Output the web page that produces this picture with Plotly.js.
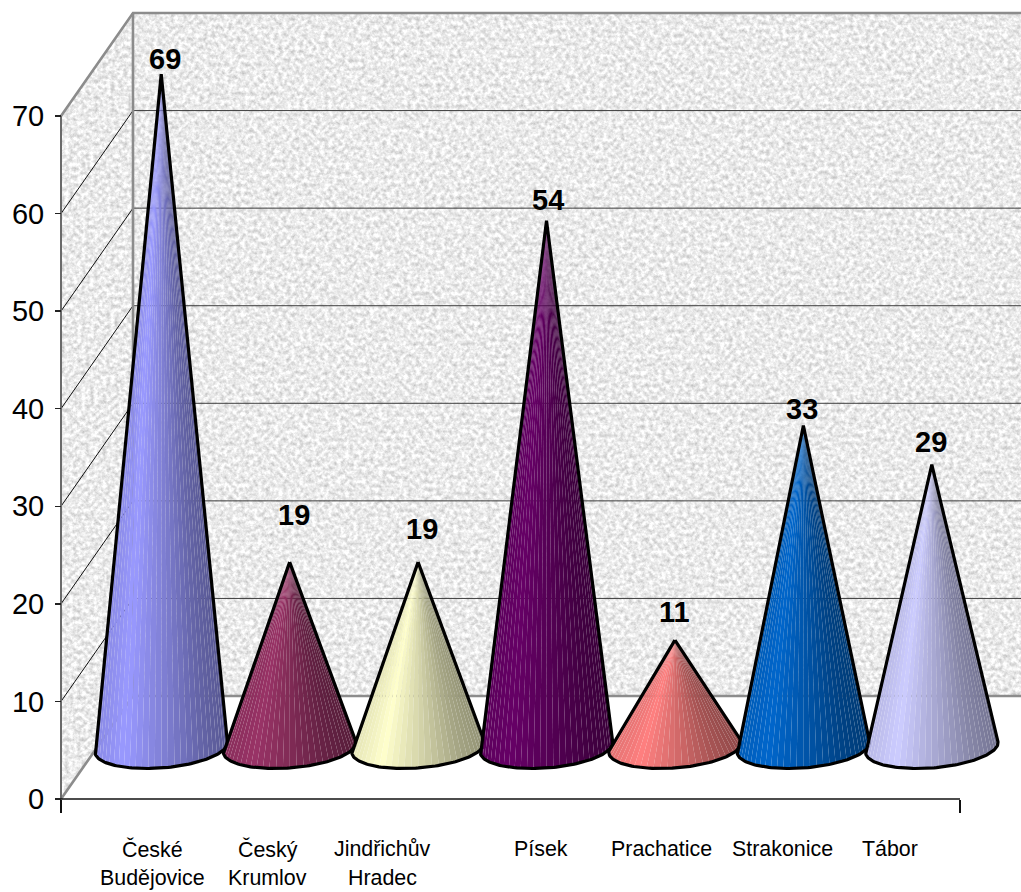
<!DOCTYPE html>
<html>
<head>
<meta charset="utf-8">
<script src="https://cdn.plot.ly/plotly-3.0.1.min.js"></script>
<style>html,body{margin:0;padding:0;background:#fff}#chart{width:1021px;height:892px}</style>
</head>
<body>
<div id="chart"></div>
<script>
// Values per district
const categories = ['České<br>Budějovice', 'Český<br>Krumlov', 'Jindřichův<br>Hradec', 'Písek', 'Prachatice', 'Strakonice', 'Tábor'];
const values = [69, 19, 19, 54, 11, 33, 29];
const yTicks = [0, 10, 20, 30, 40, 50, 60, 70];
const coneColors = ['#9999FF', '#993366', '#FFFFCC', '#660066', '#FF8080', '#0066CC', '#CCCCFF'];

// Label nudges in pixels
const valueDx = [4, 4, 4, 1, 0, -1, -1];
const valueDy = [15, 47, 33, 21, 28, 17, 23];
const nameDx = [27, 14, 0, 30, 23, 15, -6];

// Canvas and axis scale
const W = 1021, H = 892, originX = 61, originY = 799;
const catPx = 128.43, unitPx = 9.757;
const depthX = 72 / catPx, depthY = 103 / unitPx;
const xRange = [-originX / catPx, (W - originX) / catPx];
const yRange = [(originY - H) / unitPx, originY / unitPx];
const nCat = categories.length, yMax = 70;

// Cone base: an ellipse sheared along the depth direction
const baseA = 64.5 / catPx, baseB = 15 / catPx, baseC = 21 / unitPx;

function line(xs, ys, color, width) {
  return {x: xs, y: ys, mode: 'lines', line: {color, width}, hoverinfo: 'skip', showlegend: false};
}

function shade(hex, u) {
  const stops = [[0, .90], [.22, 1], [.5, .84], [.8, .66], [1, .58]];
  let k = stops[stops.length - 1][1];
  for (let i = 1; i < stops.length; i++) {
    if (u <= stops[i][0]) {
      const f = (u - stops[i - 1][0]) / (stops[i][0] - stops[i - 1][0]);
      k = stops[i - 1][1] + f * (stops[i][1] - stops[i - 1][1]);
      break;
    }
  }
  const c = [1, 3, 5].map(p => Math.round(parseInt(hex.substr(p, 2), 16) * k));
  return `rgb(${c[0]},${c[1]},${c[2]})`;
}

function coneTraces(i) {
  const cx = i + .5 + depthX / 2, cy = depthY / 2;
  const tipX = cx, tipY = cy + values[i];
  const at = deg => {
    const t = deg * Math.PI / 180;
    return [cx + baseA * Math.cos(t) + baseB * Math.sin(t), cy + baseC * Math.sin(t)];
  };
  // Tangent points of the silhouette, seen from the apex
  let tL = 90, tR = 450, minA = Infinity, maxA = -Infinity;
  for (let d = 90; d <= 450; d += .5) {
    const p = at(d), a = Math.atan2(p[0] - tipX, tipY - p[1]);
    if (a < minA) { minA = a; tL = d; }
    if (a > maxA) { maxA = a; tR = d; }
  }
  const facets = 32, out = [], arcX = [], arcY = [], edgeX = [], edgeY = [];
  const xLo = at(tL)[0], xHi = at(tR)[0];
  for (let k = 0; k <= facets; k++) {
    const p = at(tL + (tR - tL) * k / facets);
    arcX.push(p[0]); arcY.push(p[1]);
  }
  for (let k = 0; k <= 90; k++) {
    const p = at(tL + (tR - tL) * k / 90);
    edgeX.push(p[0]); edgeY.push(p[1]);
  }
  for (let k = 0; k < facets; k++) {
    const u = ((arcX[k] + arcX[k + 1]) / 2 - xLo) / (xHi - xLo);
    out.push({
      x: [tipX, arcX[k], arcX[k + 1], tipX], y: [tipY, arcY[k], arcY[k + 1], tipY],
      mode: 'none', fill: 'toself', fillcolor: shade(coneColors[i], u),
      hoverinfo: 'skip', showlegend: false
    });
  }
  out.push(line([tipX, ...edgeX, tipX], [tipY, ...edgeY, tipY], '#000', 3.2));
  return out;
}

// Mottled stone texture for the chart walls
function stone(w, h, seed, poly) {
  const clip = poly ? `<clipPath id="c"><polygon points="${poly}"/></clipPath>` : '';
  const svg = `<svg xmlns="http://www.w3.org/2000/svg" width="${w}" height="${h}" viewBox="0 0 ${w} ${h}">` +
    `<filter id="n" x="0" y="0" width="100%" height="100%" color-interpolation-filters="sRGB">` +
    `<feTurbulence type="fractalNoise" baseFrequency="0.24" numOctaves="3" seed="${seed}"/>` +
    `<feColorMatrix type="matrix" values=".4 0 0 0 .72  .4 0 0 0 .72  .4 0 0 0 .72  0 0 0 0 1"/>` +
    `</filter>${clip}<g${poly ? ' clip-path="url(#c)"' : ''}><rect width="${w}" height="${h}" filter="url(#n)"/></g></svg>`;
  return 'data:image/svg+xml;charset=utf-8,' + encodeURIComponent(svg);
}

const traces = [];
const grey = '#8c8c8c', gridCol = '#3c3c3c';

// Grid on the back and side walls
yTicks.slice(1).forEach(v => {
  if (v < yMax) traces.push(line([0, depthX], [v, v + depthY], '#111', 1));
  if (v < yMax) traces.push(line([depthX, depthX + nCat], [v + depthY, v + depthY], gridCol, 1));
});

// Wall outlines and floor edge
traces.push(line([0, depthX, depthX + nCat], [yMax, yMax + depthY, yMax + depthY], grey, 2.6));
traces.push(line([depthX, depthX], [depthY, yMax + depthY], grey, 2.6));
traces.push(line([0, depthX, depthX + nCat], [0, depthY, depthY], grey, 2.6));

// Axis lines
traces.push(line([0, 0], [0, yMax], '#6a6a6a', 2));
traces.push(line([0, nCat], [0, 0], '#111', 1.5));

values.forEach((v, i) => traces.push(...coneTraces(i)));

const annotations = [];
values.forEach((v, i) => annotations.push({
  x: i + .5 + depthX / 2, y: depthY / 2 + v, xref: 'x', yref: 'y',
  text: String(v), showarrow: false, xanchor: 'center', yanchor: 'middle',
  xshift: valueDx[i], yshift: valueDy[i],
  font: {family: 'Liberation Sans, Arial, sans-serif', size: 29, color: '#000', weight: 700}
}));
categories.forEach((c, i) => c.split('<br>').forEach((txt, row) => annotations.push({
  x: i + .5, y: (originY - (849 + row * 29)) / unitPx, xref: 'x', yref: 'y',
  text: txt, showarrow: false, xanchor: 'center', yanchor: 'middle', xshift: nameDx[i],
  font: {family: 'Liberation Sans, Arial, sans-serif', size: 21.4, color: '#000'}
})));

const layout = {
  width: W, height: H, margin: {l: 0, r: 0, t: 0, b: 0},
  paper_bgcolor: '#fff', plot_bgcolor: '#fff', showlegend: false,
  font: {family: 'Liberation Sans, Arial, sans-serif', color: '#000'},
  xaxis: {
    range: xRange, anchor: 'free', position: (H - originY) / H,
    showgrid: false, zeroline: false, showline: false,
    tickmode: 'array', tickvals: [0, nCat], ticktext: ['', ''], showticklabels: false,
    ticks: 'outside', ticklen: 13, tickwidth: 1.5, tickcolor: '#111'
  },
  yaxis: {
    range: yRange, anchor: 'free', position: originX / W,
    showgrid: false, zeroline: false, showline: false,
    tickmode: 'array', tickvals: yTicks, ticktext: yTicks.map(String),
    ticks: 'outside', ticklen: 6, tickwidth: 1.5, tickcolor: '#222',
    ticklabelstandoff: 5, tickfont: {size: 29, color: '#000', family: 'Liberation Sans, Arial, sans-serif'}
  },
  images: [
    {source: stone(899, 683, 7), xref: 'x', yref: 'y', x: depthX, y: yMax + depthY,
     sizex: nCat, sizey: yMax, sizing: 'stretch', xanchor: 'left', yanchor: 'top', layer: 'below'},
    {source: stone(72, 786, 11, '0,103 72,0 72,683 0,786'), xref: 'x', yref: 'y', x: 0, y: yMax + depthY,
     sizex: depthX, sizey: yMax + depthY, sizing: 'stretch', xanchor: 'left', yanchor: 'top', layer: 'below'}
  ],
  annotations
};

Plotly.newPlot('chart', traces, layout, {displayModeBar: false, staticPlot: true});
</script>
</body>
</html>
